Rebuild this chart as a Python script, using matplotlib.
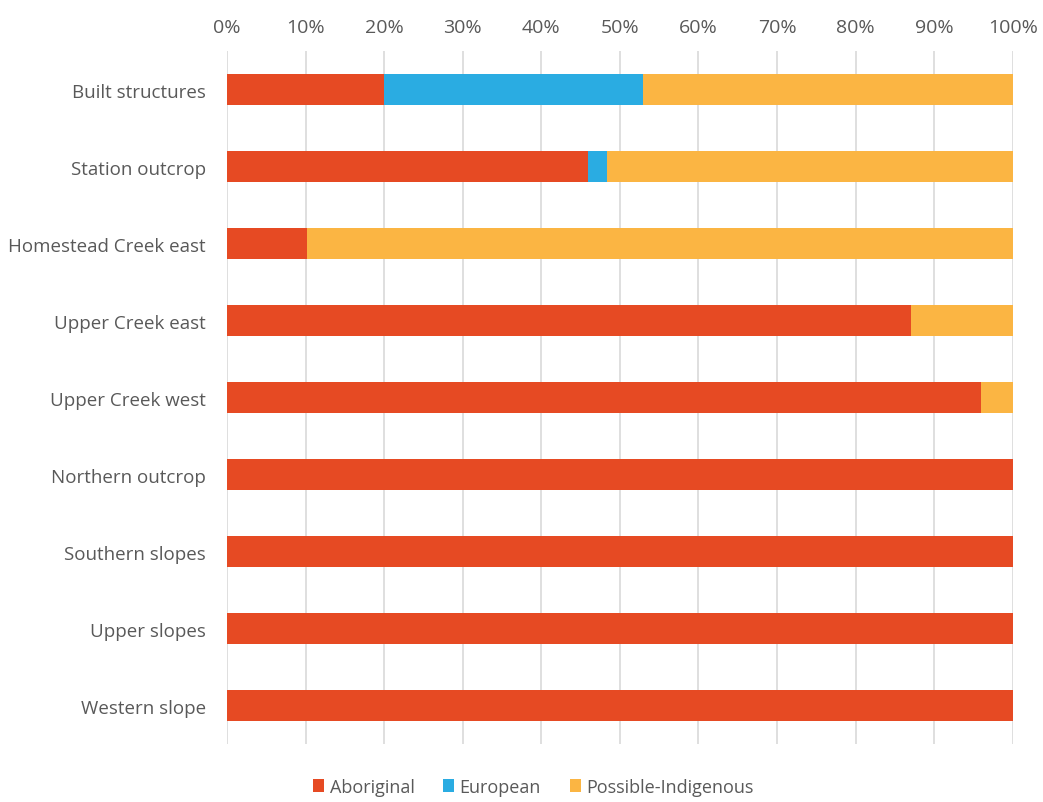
import matplotlib
matplotlib.use("Agg")
import matplotlib.pyplot as plt
import numpy as np
from matplotlib.ticker import PercentFormatter

categories = ["Built structures", "Station outcrop", "Homestead Creek east",
              "Upper Creek east", "Upper Creek west", "Northern outcrop",
              "Southern slopes", "Upper slopes", "Western slope"]
aboriginal = [20.0, 46.0, 10.2, 87.0, 96.0, 100, 100, 100, 100]
european = [33.0, 2.4, 0, 0, 0, 0, 0, 0, 0]
possible = [47.0, 51.6, 89.8, 13.0, 4.0, 0, 0, 0, 0]
series_names = ["Aboriginal", "European", "Possible-Indigenous"]
colors = ["#E64A23", "#2AACE2", "#FBB543"]

plt.rcParams['font.family'] = ['Open Sans', 'DejaVu Sans']
fig = plt.figure(figsize=(10.43, 8.03), dpi=100)
ax = fig.add_axes([0.2176, 0.072, 0.7534, 0.863])

y = np.arange(len(categories))
left = np.zeros(len(categories))
for vals, name, c in zip([aboriginal, european, possible], series_names, colors):
    ax.barh(y, vals, left=left, height=0.41, color=c, label=name, zorder=3)
    left += np.array(vals)

ax.set_xlim(0, 100)
ax.set_ylim(len(categories) - 0.5, -0.5)
ax.set_yticks(y)
ax.set_yticklabels(categories, fontsize=13.5)
ax.set_xticks(np.arange(0, 101, 10))
ax.xaxis.set_major_formatter(PercentFormatter(decimals=0))
ax.xaxis.tick_top()
ax.tick_params(axis='both', length=0, labelcolor='#595959')
ax.tick_params(axis='x', pad=11, labelsize=14)
ax.tick_params(axis='y', pad=15)
ax.grid(axis='x', color='#D9D9D9', linewidth=1.2, zorder=0)
for s in ax.spines.values():
    s.set_visible(False)

leg = ax.legend(loc='upper center', bbox_to_anchor=(0.39, -0.025), ncol=3, frameon=False,
                fontsize=13, handlelength=0.6, handleheight=0.7, handletextpad=0.3,
                columnspacing=1.6, labelcolor='#595959')

fig.savefig("out.png", dpi=100)
